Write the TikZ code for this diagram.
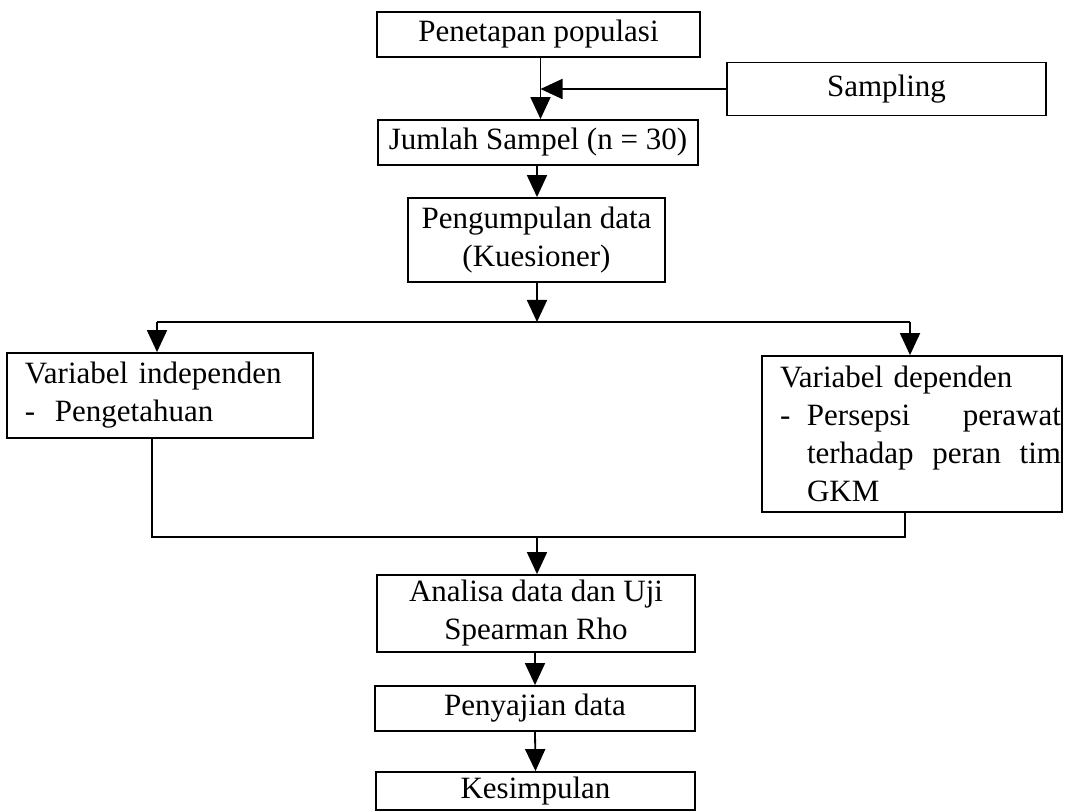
\documentclass[tikz,border=0pt]{standalone}
\usepackage{fontspec}
\setmainfont{Liberation Serif}
\usetikzlibrary{arrows.meta,calc}
\begin{document}
\begin{tikzpicture}[x=0.5pt,y=-0.5pt,
  every node/.style={font=\fontsize{15.5}{19}\selectfont},
  box/.style={draw,line width=0.9pt,rectangle,inner sep=0pt,align=center},
  conn/.style={line width=0.9pt},
  arr/.style={conn,-{Triangle[length=11pt,width=10pt]}}]
\useasboundingbox (0,0) rectangle (1065,812);
\node[box,minimum width=161.5pt,minimum height=22.5pt] (pen) at (538.5,34.5) {Penetapan populasi};
\node[box,minimum width=159.5pt,minimum height=26.5pt] (samp) at (886.5,89) {Sampling};
\node[box,minimum width=160pt,minimum height=22.5pt] (jum) at (538,142.5) {Jumlah Sampel (n = 30)};
\node[box,minimum width=128.5pt,minimum height=42pt] (peng) at (536.5,240) {Pengumpulan data\\(Kuesioner)};
\node[box,minimum width=153pt,minimum height=42.5pt,text width=135pt,inner xsep=9pt,align=left] (ind) at (160,395.5)
  {Variabel independen\\\makebox[15pt][l]{-}Pengetahuan};
\node[box,minimum width=150pt,minimum height=78pt,text width=149pt,inner xsep=0.5pt,align=left] (dep) at (912,434)
  {\hspace*{8.5pt}Variabel dependen\\
   \hspace*{8.5pt}\makebox[13.5pt][l]{-}\hbox to 127pt{Persepsi\hfill perawat}\\
   \hspace*{22pt}\hbox to 127pt{terhadap\hfill peran\hfill tim}\\
   \hspace*{22pt}GKM};
\node[box,minimum width=159pt,minimum height=38.5pt] (ana) at (536,613.5) {Analisa data dan Uji\\Spearman Rho};
\node[box,minimum width=160pt,minimum height=22.5pt] (saji) at (535,708.5) {Penyajian data};
\node[box,minimum width=159.5pt,minimum height=19pt] (kes) at (535.5,791) {Kesimpulan};
\coordinate (split) at (537,322);
\coordinate (join) at (537,537);
% connectors
\draw[arr] ([xshift=1pt]pen.south) -- ([xshift=1pt]pen.south |- jum.north);
\draw[arr] (samp.west) -- (samp.west -| {$(pen.south)+(1pt,0)$});
\draw[arr] (jum.south -| split) -- (split |- peng.north);
\draw[arr] (peng.south -| split) -- (split);
\draw[conn] ([xshift=-1.5pt]ind.north |- split) -- ([xshift=-1pt]dep.north |- split);
\draw[arr] ([xshift=-1.5pt]ind.north |- split) -- ([xshift=-1.5pt]ind.north);
\draw[arr] ([xshift=-1pt]dep.north |- split) -- ([xshift=-1pt]dep.north);
\draw[conn] ([xshift=-4pt]ind.south) -- ([xshift=-4pt]ind.south |- join) -- ([xshift=-3.5pt]dep.south |- join) -- ([xshift=-3.5pt]dep.south);
\draw[arr] (join) -- (join |- ana.north);
\draw[arr] (ana.south -| saji.north) -- (saji.north);
\draw[arr] (saji.south) -- (kes.north);
\end{tikzpicture}
\end{document}
